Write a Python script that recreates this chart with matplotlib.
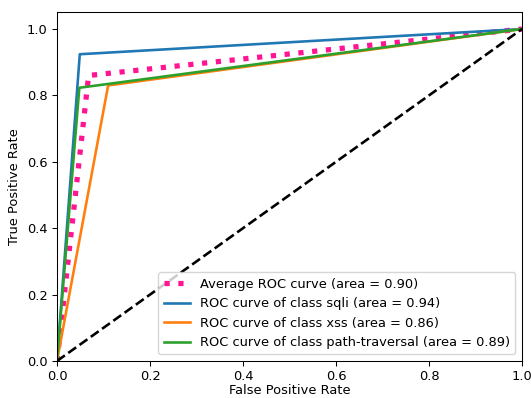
import matplotlib
matplotlib.use("Agg")
import matplotlib.pyplot as plt

avg_fpr = [0.0, 0.068, 1.0]
avg_tpr = [0.0, 0.86, 1.0]
sqli_fpr = [0.0, 0.049, 1.0]
sqli_tpr = [0.0, 0.924, 1.0]
xss_fpr = [0.0, 0.110, 1.0]
xss_tpr = [0.0, 0.830, 1.0]
path_fpr = [0.0, 0.048, 1.0]
path_tpr = [0.0, 0.823, 1.0]

labels = [
    "Average ROC curve (area = 0.90)",
    "ROC curve of class sqli (area = 0.94)",
    "ROC curve of class xss (area = 0.86)",
    "ROC curve of class path-traversal (area = 0.89)",
]

s = 0.94
plt.rcParams['font.size'] = 10 * s

fig = plt.figure(figsize=(5.31, 3.98), dpi=100)
ax = fig.add_axes([57 / 531, 37 / 398, 465 / 531, 348.6 / 398])

ax.plot(avg_fpr, avg_tpr, color='deeppink', linestyle=':', linewidth=4 * s, label=labels[0])
ax.plot(sqli_fpr, sqli_tpr, color='#1f77b4', linewidth=2 * s, label=labels[1])
ax.plot(xss_fpr, xss_tpr, color='#ff7f0e', linewidth=2 * s, label=labels[2])
ax.plot(path_fpr, path_tpr, color='#2ca02c', linewidth=2 * s, label=labels[3])
ax.plot([0, 1], [0, 1], 'k--', linewidth=2 * s)

ax.set_xlim(0.0, 1.0)
ax.set_ylim(0.0, 1.05)
ax.set_xlabel('False Positive Rate', labelpad=0.5)
ax.set_ylabel('True Positive Rate')
ax.tick_params(length=3.5 * s, width=0.8 * s)
for sp in ax.spines.values():
    sp.set_linewidth(0.8 * s)
ax.legend(loc='lower right', fontsize=10 * s)

fig.savefig('out.png', dpi=100)
